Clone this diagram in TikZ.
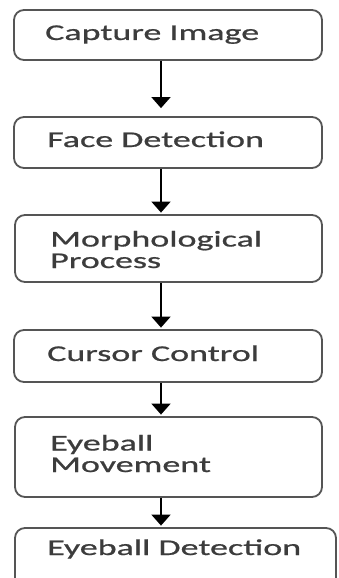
\documentclass[tikz,border=0pt]{standalone}
\usepackage{fontspec}
\newfontfamily\boxfont[FakeStretch=1.6,FakeBold=0.8]{Carlito}
\usetikzlibrary{arrows.meta}
\definecolor{boxgray}{HTML}{555555}
\definecolor{txtgray}{HTML}{3C3C3C}
\begin{document}
\begin{tikzpicture}[x=1pt,y=-1pt,
  box/.style={draw=boxgray, line width=1.8pt, rounded corners=10pt, inner sep=0pt, fill=white},
  lbl/.style={anchor=base west, inner sep=0pt, align=left, text=txtgray,
    font=\boxfont\fontsize{22.5}{21.5}\selectfont},
  arr/.style={draw=black, line width=1.8pt, -{Triangle[width=19pt,length=11pt]}}]
\useasboundingbox (0,0) rectangle (338,578);
\clip (0,0) rectangle (338,578);
\fill[white] (0,0) rectangle (338,578);
\coordinate (ax) at (161,0);
\node[box, minimum width=308pt, minimum height=50pt] (b1) at (168,35) {};
\node[box, minimum width=308pt, minimum height=51pt] (b2) at (168,142.5) {};
\node[box, minimum width=307pt, minimum height=67pt] (b3) at (168.5,248.5) {};
\node[box, minimum width=308pt, minimum height=52pt] (b4) at (168,356) {};
\node[box, minimum width=307pt, minimum height=80pt] (b5) at (168.5,457) {};
\node[box, minimum width=321pt, minimum height=80pt] (b6) at (175.5,568) {};
\node[lbl] (t1) at (45,40) {Capture Image};
\node[lbl] (t2) at (47,147) {Face Detection};
\node[lbl] (t3) at (50,268) {Morphological\\Process};
\node[lbl] (t4) at (47,361) {Cursor Control};
\node[lbl] (t5) at (50,472) {Eyeball\\Movement};
\node[lbl] (t6) at (47,555) {Eyeball Detection};
\draw[arr, shorten >=8pt] (b1.south -| ax) -- (b2.north -| ax);
\draw[arr, shorten >=1.5pt] (b2.south -| ax) -- (b3.north -| ax);
\draw[arr, shorten >=1.5pt] (b3.south -| ax) -- (b4.north -| ax);
\draw[arr, shorten >=1.5pt] (b4.south -| ax) -- (b5.north -| ax);
\draw[arr, shorten >=1.5pt] (b5.south -| ax) -- (b6.north -| ax);
\end{tikzpicture}
\end{document}
